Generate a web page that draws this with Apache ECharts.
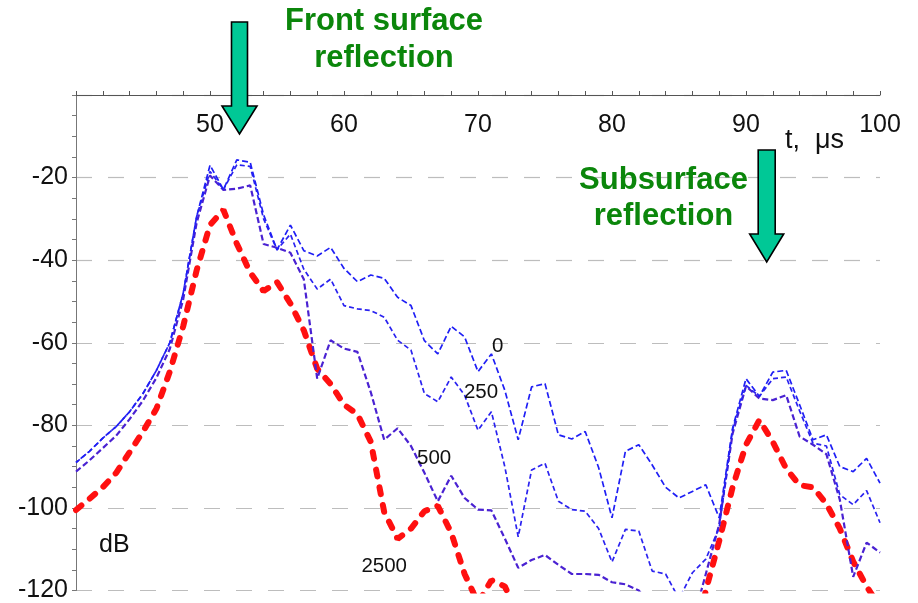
<!DOCTYPE html>
<html>
<head>
<meta charset="utf-8">
<script src="https://cdn.jsdelivr.net/npm/echarts@6/dist/echarts.min.js"></script>
<style>
  html, body { margin: 0; padding: 0; background: #ffffff; }
  #chart { width: 918px; height: 603px; }
</style>
</head>
<body>
<div id="chart"></div>
<script>
// Time samples, microseconds
const times = [40, 41, 42, 43, 44, 45, 46, 47, 48, 49,
               50, 51, 52, 53, 54, 55, 56, 57, 58, 59,
               60, 61, 62, 63, 64, 65, 66, 67, 68, 69,
               70, 71, 72, 73, 74, 75, 76, 77, 78, 79,
               80, 81, 82, 83, 84, 85, 86, 87, 88, 89,
               90, 91, 92, 93, 94, 95, 96, 97, 98, 99, 100];

// Echo level in dB for each curve
const level0 = [-89, -86.3, -83.1, -80.3, -76.7, -72.3, -66.7, -60, -48, -29.5,
                -17, -22.9, -15.7, -16.3, -29, -37.5, -31.5, -37.7, -39, -36.9,
                -42, -45.2, -43.6, -44.4, -49, -51, -59.5, -62.7, -56, -58.6,
                -67, -62.7, -71.5, -83.5, -70.7, -69.9, -82.3, -83.3, -81.5, -90.2,
                -102.4, -86.3, -84.7, -89.6, -95, -97.6, -96, -94.4, -102.4, -80.7,
                -68.7, -73, -67.1, -66.7, -75, -83.5, -82.3, -90, -91.2, -88, -94];

const level250 = [-89, -86.3, -83.1, -80.3, -76.7, -72.3, -66.7, -60, -48, -29.5,
                  -18.5, -22.9, -16.9, -17.3, -30, -37.5, -33.7, -42.2, -47, -44.6,
                  -51, -51.8, -52.2, -53.8, -59.4, -61.8, -72.3, -74.3, -68.3, -72.7,
                  -81.2, -76.7, -90, -107, -90.8, -89.2, -98.4, -100.4, -100.8, -105,
                  -113.1, -105.2, -105.6, -115.3, -116, -122, -115.7, -112.4, -104.8, -81,
                  -70.3, -73, -68.7, -68.3, -76.5, -84.3, -85, -96.8, -99.2, -95.8, -103.6];

const level500 = [-91.2, -88.5, -85.5, -82.5, -78.5, -74, -68.5, -61.5, -49.5, -31,
                  -19.5, -23, -22.7, -21.9, -36.1, -37, -38.2, -44.6, -68.7, -59.4,
                  -61.4, -62.2, -72, -83.5, -80.7, -85, -91.5, -98.4, -92.2, -97.6,
                  -100.4, -100.6, -107.4, -114.5, -112.6, -111.4, -113.8, -116, -116, -116.2,
                  -118, -118.5, -120, -124, -128, -130, -128, -116, -104, -82,
                  -70.5, -73.5, -73.9, -72.7, -82.7, -84.7, -87, -98, -116.7, -108.4, -110.8];

const level2500 = [-100.5, -97.8, -95, -91.5, -86.5, -81.5, -76, -67, -56, -42.5,
                   -31.5, -27.8, -36, -43, -47.5, -45.3, -50.5, -57, -66.3, -70,
                   -75, -77.3, -84, -101, -107.5, -105, -100.8, -99.5, -106, -116,
                   -123, -117.5, -119, -126, -132, -138, -142, -145, -147, -148,
                   -150, -150, -150, -148, -146, -142, -136, -120, -108, -95,
                   -84.7, -78.7, -84, -90.5, -94.5, -95, -99, -105, -113, -119, -124];

// Curve names and where their labels sit (t, dB at text baseline-left)
const curveNames = ['0', '250', '500', '2500'];
const labelAnchors = [[71.05, -62], [68.95, -73.1], [65.45, -89], [61.3, -115.3]];

const xTicks = [50, 60, 70, 80, 90, 100];
const yTicks = [-20, -40, -60, -80, -100, -120];

const FONT = '"Liberation Sans", Arial, Helvetica, sans-serif';

function pairs(vals) {
  return times.map((t, i) => [t, vals[i]]);
}

const chart = echarts.init(document.getElementById('chart'), null, { renderer: 'canvas' });

const baseLine = {
  type: 'line',
  showSymbol: false,
  symbol: 'none',
  clip: true,
  animation: false,
  smooth: false
};

chart.setOption({
  backgroundColor: '#ffffff',
  animation: false,
  grid: { left: 76, right: 38, top: 95, bottom: 12, containLabel: false },
  xAxis: {
    type: 'value',
    position: 'top',
    min: 40, max: 100, interval: 10,
    axisLine: { show: true, onZero: false, lineStyle: { color: '#555', width: 1 } },
    axisTick: { show: true, inside: false, length: 4, lineStyle: { color: '#555' } },
    minorTick: { show: true, splitNumber: 5, length: 4, lineStyle: { color: '#555' } },
    axisLabel: {
      inside: true, margin: 18, fontSize: 25, color: '#111', fontFamily: FONT,
      showMinLabel: false,
      formatter: v => (xTicks.indexOf(v) >= 0 ? String(v) : '')
    },
    splitLine: { show: false }
  },
  yAxis: {
    type: 'value',
    min: -120, max: 0, interval: 20,
    axisLine: { show: true, onZero: false, lineStyle: { color: '#777', width: 1 } },
    axisTick: { show: true, inside: false, length: 4, lineStyle: { color: '#777' } },
    minorTick: { show: true, splitNumber: 4, length: 4, lineStyle: { color: '#777' } },
    axisLabel: {
      margin: 8, fontSize: 25, color: '#111', fontFamily: FONT,
      showMaxLabel: false,
      formatter: v => (yTicks.indexOf(v) >= 0 ? String(v) : '')
    },
    splitLine: { show: true, lineStyle: { color: '#bdbdbd', width: 1.2, type: [16, 16] } }
  },
  series: [
    Object.assign({}, baseLine, {
      name: curveNames[3], data: pairs(level2500), z: 2,
      lineStyle: { color: '#ff1010', width: 6, type: [7, 11], cap: 'round' }
    }),
    Object.assign({}, baseLine, {
      name: curveNames[2], data: pairs(level500), z: 3,
      lineStyle: { color: '#4a22d2', width: 2.2, type: [6, 3] }
    }),
    Object.assign({}, baseLine, {
      name: curveNames[1], data: pairs(level250), z: 4,
      lineStyle: { color: '#2a22f0', width: 1.7, type: [5, 3] }
    }),
    Object.assign({}, baseLine, {
      name: curveNames[0], data: pairs(level0), z: 5,
      lineStyle: { color: '#1f1ff5', width: 1.7, type: [6, 3], dashOffset: 3 }
    })
  ]
});

// Curve labels placed in data coordinates
const curveLabelGraphics = curveNames.map((name, i) => {
  const p = chart.convertToPixel({ gridIndex: 0 }, labelAnchors[i]);
  return {
    type: 'text', left: p[0], top: p[1] - 15, z: 20,
    style: { text: name, fontSize: 20.5, fontFamily: FONT, fill: '#111' }
  };
});

// Arrow shape pointing downward
function downArrow(cx, top, headTop, tip, shaftHalf, headHalf) {
  return {
    type: 'polygon', z: 30,
    shape: { points: [
      [cx - shaftHalf, top], [cx + shaftHalf, top], [cx + shaftHalf, headTop],
      [cx + headHalf, headTop], [cx, tip], [cx - headHalf, headTop], [cx - shaftHalf, headTop]
    ] },
    style: { fill: '#00c896', stroke: '#000', lineWidth: 1.6, lineJoin: 'miter' }
  };
}

const GREEN = '#0b860b';

chart.setOption({
  graphic: curveLabelGraphics.concat([
    {
      type: 'text', left: 785, top: 127, z: 20,
      style: { text: 't,  \u03bcs', fontSize: 27, fontFamily: FONT, fill: '#111' }
    },
    {
      type: 'text', left: 99, top: 533, z: 20,
      style: { text: 'dB', fontSize: 25, fontFamily: FONT, fill: '#111' }
    },
    {
      type: 'text', x: 384, y: 3, z: 25,
      style: {
        text: 'Front surface\nreflection', fontSize: 31, fontWeight: 'bold', fontFamily: FONT,
        fill: GREEN, align: 'center', verticalAlign: 'top', lineHeight: 37
      }
    },
    {
      type: 'text', x: 663.5, y: 162, z: 25,
      style: {
        text: 'Subsurface\nreflection', fontSize: 31, fontWeight: 'bold', fontFamily: FONT,
        fill: GREEN, align: 'center', verticalAlign: 'top', lineHeight: 36.6
      }
    },
    downArrow(239.5, 22, 106, 134, 8, 17.5),
    downArrow(766.7, 150, 234, 262, 8.5, 17)
  ])
});
</script>
</body>
</html>
